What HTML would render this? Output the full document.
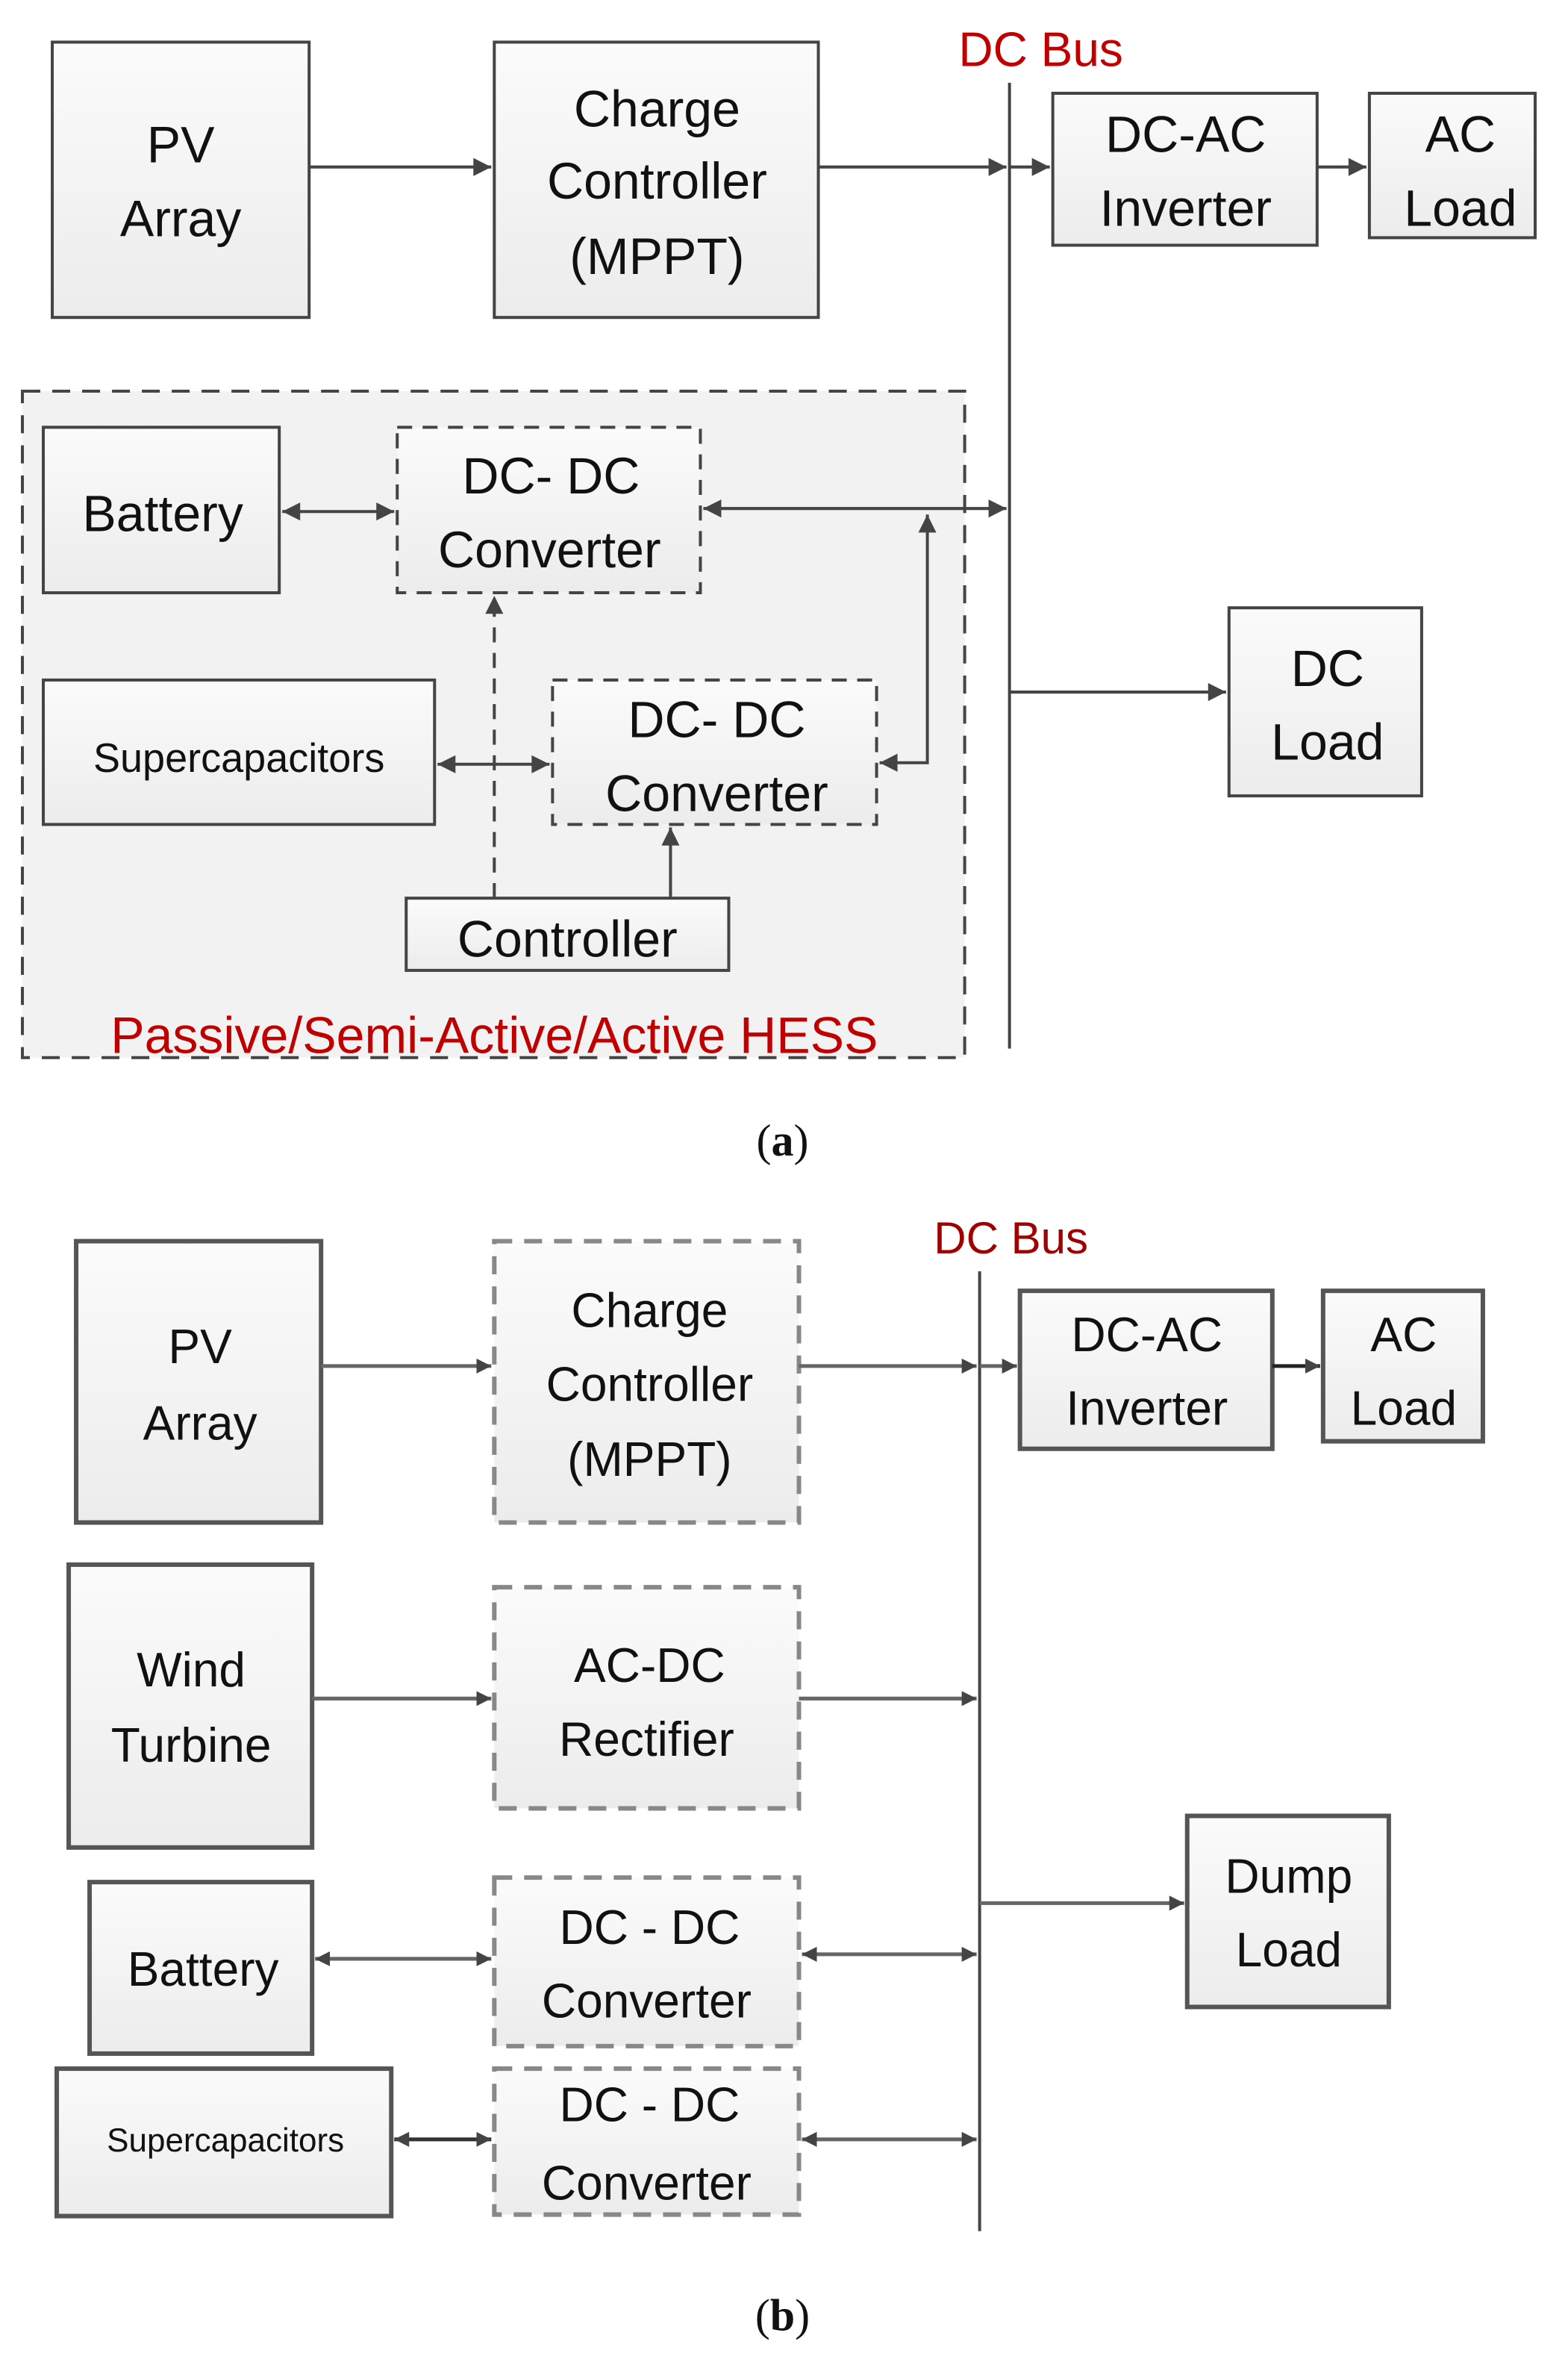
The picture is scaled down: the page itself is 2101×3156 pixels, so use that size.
<!DOCTYPE html>
<html><head><meta charset="utf-8"><style>
html,body{margin:0;padding:0;background:#fff;}
svg{display:block;}
text{font-family:"Liberation Sans",sans-serif;fill:#111;text-anchor:middle;}
</style></head><body>
<svg width="2101" height="3156" viewBox="0 0 1050 1566" preserveAspectRatio="none" xmlns="http://www.w3.org/2000/svg">
<defs>
<linearGradient id="g" x1="0" y1="0" x2="0" y2="1"><stop offset="0" stop-color="#fbfbfb"/><stop offset="1" stop-color="#ececec"/></linearGradient>
<marker id="a" viewBox="0 0 10 10" refX="10" refY="5" markerWidth="14" markerHeight="12" orient="auto-start-reverse" markerUnits="userSpaceOnUse"><path d="M0,0 L10,5 L0,10 z" fill="#444"/></marker>
<marker id="s" viewBox="0 0 10 10" refX="10" refY="5" markerWidth="10" markerHeight="10" orient="auto-start-reverse" markerUnits="userSpaceOnUse"><path d="M0,0 L10,5 L0,10 z" fill="#444"/></marker>
</defs>
<g stroke="#444" stroke-width="2" fill="none">
<rect x="15" y="260" width="631" height="443" fill="#f2f2f2" stroke-dasharray="12,8"/>
<rect x="35" y="28" width="172" height="183" fill="url(#g)"/>
<rect x="331" y="28" width="217" height="183" fill="url(#g)"/>
<rect x="705" y="62" width="177" height="101" fill="url(#g)"/>
<rect x="917" y="62" width="111" height="96" fill="url(#g)"/>
<rect x="29" y="284" width="158" height="110" fill="url(#g)"/>
<rect x="266" y="284" width="203" height="110" fill="url(#g)" stroke-dasharray="10,7"/>
<rect x="29" y="452" width="262" height="96" fill="url(#g)"/>
<rect x="370" y="452" width="217" height="96" fill="url(#g)" stroke-dasharray="10,7"/>
<rect x="272" y="597" width="216" height="48" fill="url(#g)"/>
<rect x="823" y="404" width="129" height="125" fill="url(#g)"/>
<line x1="676" y1="55" x2="676" y2="697"/>
<line x1="207" y1="111" x2="329" y2="111" marker-end="url(#a)"/>
<line x1="548" y1="111" x2="674" y2="111" marker-end="url(#a)"/>
<line x1="676" y1="111" x2="703" y2="111" marker-end="url(#a)"/>
<line x1="882" y1="111" x2="915" y2="111" marker-end="url(#a)"/>
<line x1="189" y1="340" x2="264" y2="340" marker-start="url(#a)" marker-end="url(#a)"/>
<line x1="471" y1="338" x2="674" y2="338" marker-start="url(#a)" marker-end="url(#a)"/>
<polyline points="589,507 621,507 621,342" marker-start="url(#a)" marker-end="url(#a)"/>
<line x1="293" y1="508" x2="368" y2="508" marker-start="url(#a)" marker-end="url(#a)"/>
<line x1="331" y1="597" x2="331" y2="396" stroke-dasharray="10,7" marker-end="url(#a)"/>
<line x1="449" y1="597" x2="449" y2="550" marker-end="url(#a)"/>
<line x1="676" y1="460" x2="821" y2="460" marker-end="url(#a)"/>
<g stroke="#555" stroke-width="3">
<rect x="51" y="825" width="164" height="187" fill="url(#g)"/>
<rect x="331" y="825" width="204" height="187" fill="url(#g)" stroke="#888" stroke-dasharray="12,8"/>
<rect x="683" y="858" width="169" height="105" fill="url(#g)"/>
<rect x="886" y="858" width="107" height="100" fill="url(#g)"/>
<rect x="46" y="1040" width="163" height="188" fill="url(#g)"/>
<rect x="331" y="1055" width="204" height="147" fill="url(#g)" stroke="#888" stroke-dasharray="12,8"/>
<rect x="60" y="1251" width="149" height="114" fill="url(#g)"/>
<rect x="331" y="1248" width="204" height="112" fill="url(#g)" stroke="#888" stroke-dasharray="12,8"/>
<rect x="38" y="1375" width="224" height="98" fill="url(#g)"/>
<rect x="331" y="1375" width="204" height="97" fill="url(#g)" stroke="#888" stroke-dasharray="12,8"/>
<rect x="795" y="1207" width="135" height="127" fill="url(#g)"/>
</g>
<line x1="656" y1="845" x2="656" y2="1483"/>
<g stroke="#666" stroke-width="2.5">
<line x1="215" y1="908" x2="329" y2="908" marker-end="url(#s)"/>
<line x1="535" y1="908" x2="654" y2="908" marker-end="url(#s)"/>
<line x1="656" y1="908" x2="681" y2="908" marker-end="url(#s)"/>
<line x1="852" y1="908" x2="884" y2="908" stroke="#222" marker-end="url(#s)"/>
<line x1="209" y1="1129" x2="329" y2="1129" marker-end="url(#s)"/>
<line x1="535" y1="1129" x2="654" y2="1129" marker-end="url(#s)"/>
<line x1="211" y1="1302" x2="329" y2="1302" marker-start="url(#s)" marker-end="url(#s)"/>
<line x1="537" y1="1299" x2="654" y2="1299" marker-start="url(#s)" marker-end="url(#s)"/>
<line x1="264" y1="1422" x2="329" y2="1422" stroke="#333" marker-start="url(#s)" marker-end="url(#s)"/>
<line x1="537" y1="1422" x2="654" y2="1422" marker-start="url(#s)" marker-end="url(#s)"/>
<line x1="656" y1="1265" x2="793" y2="1265" marker-end="url(#s)"/>
</g>
</g>
<g font-size="34">
<text x="121" y="108">PV</text><text x="121" y="157">Array</text>
<text x="440" y="84">Charge</text><text x="440" y="132">Controller</text><text x="440" y="182">(MPPT)</text>
<text x="794" y="101">DC-AC</text><text x="794" y="150">Inverter</text>
<text x="978" y="101">AC</text><text x="978" y="150">Load</text>
<text x="109" y="353">Battery</text>
<text x="369" y="328">DC- DC</text><text x="368" y="377">Converter</text>
<text x="160" y="513" font-size="27">Supercapacitors</text>
<text x="480" y="490">DC- DC</text><text x="480" y="539">Converter</text>
<text x="380" y="636">Controller</text>
<text x="889" y="456">DC</text><text x="889" y="505">Load</text>
<text x="697" y="44" font-size="32" style="fill:#c00000">DC Bus</text>
<text x="331" y="700" font-size="34" style="fill:#c00000">Passive/Semi-Active/Active HESS</text>
<text x="524" y="768" font-size="30" style="font-family:'Liberation Serif',serif">(<tspan font-weight="bold">a</tspan>)</text>
</g>
<g font-size="32">
<text x="677" y="833" font-size="30" style="fill:#a00000">DC Bus</text>
<text x="134" y="906">PV</text><text x="134" y="957">Array</text>
<text x="435" y="882">Charge</text><text x="435" y="931">Controller</text><text x="435" y="981">(MPPT)</text>
<text x="768" y="898">DC-AC</text><text x="768" y="947">Inverter</text>
<text x="940" y="898">AC</text><text x="940" y="947">Load</text>
<text x="128" y="1121">Wind</text><text x="128" y="1171">Turbine</text>
<text x="435" y="1118">AC-DC</text><text x="433" y="1167">Rectifier</text>
<text x="136" y="1320">Battery</text>
<text x="435" y="1292">DC - DC</text><text x="433" y="1341">Converter</text>
<text x="151" y="1430" font-size="22">Supercapacitors</text>
<text x="435" y="1410">DC - DC</text><text x="433" y="1462">Converter</text>
<text x="863" y="1258">Dump</text><text x="863" y="1307">Load</text>
<text x="524" y="1549" font-size="30" style="font-family:'Liberation Serif',serif">(<tspan font-weight="bold">b</tspan>)</text>
</g>
</svg>
</body></html>
